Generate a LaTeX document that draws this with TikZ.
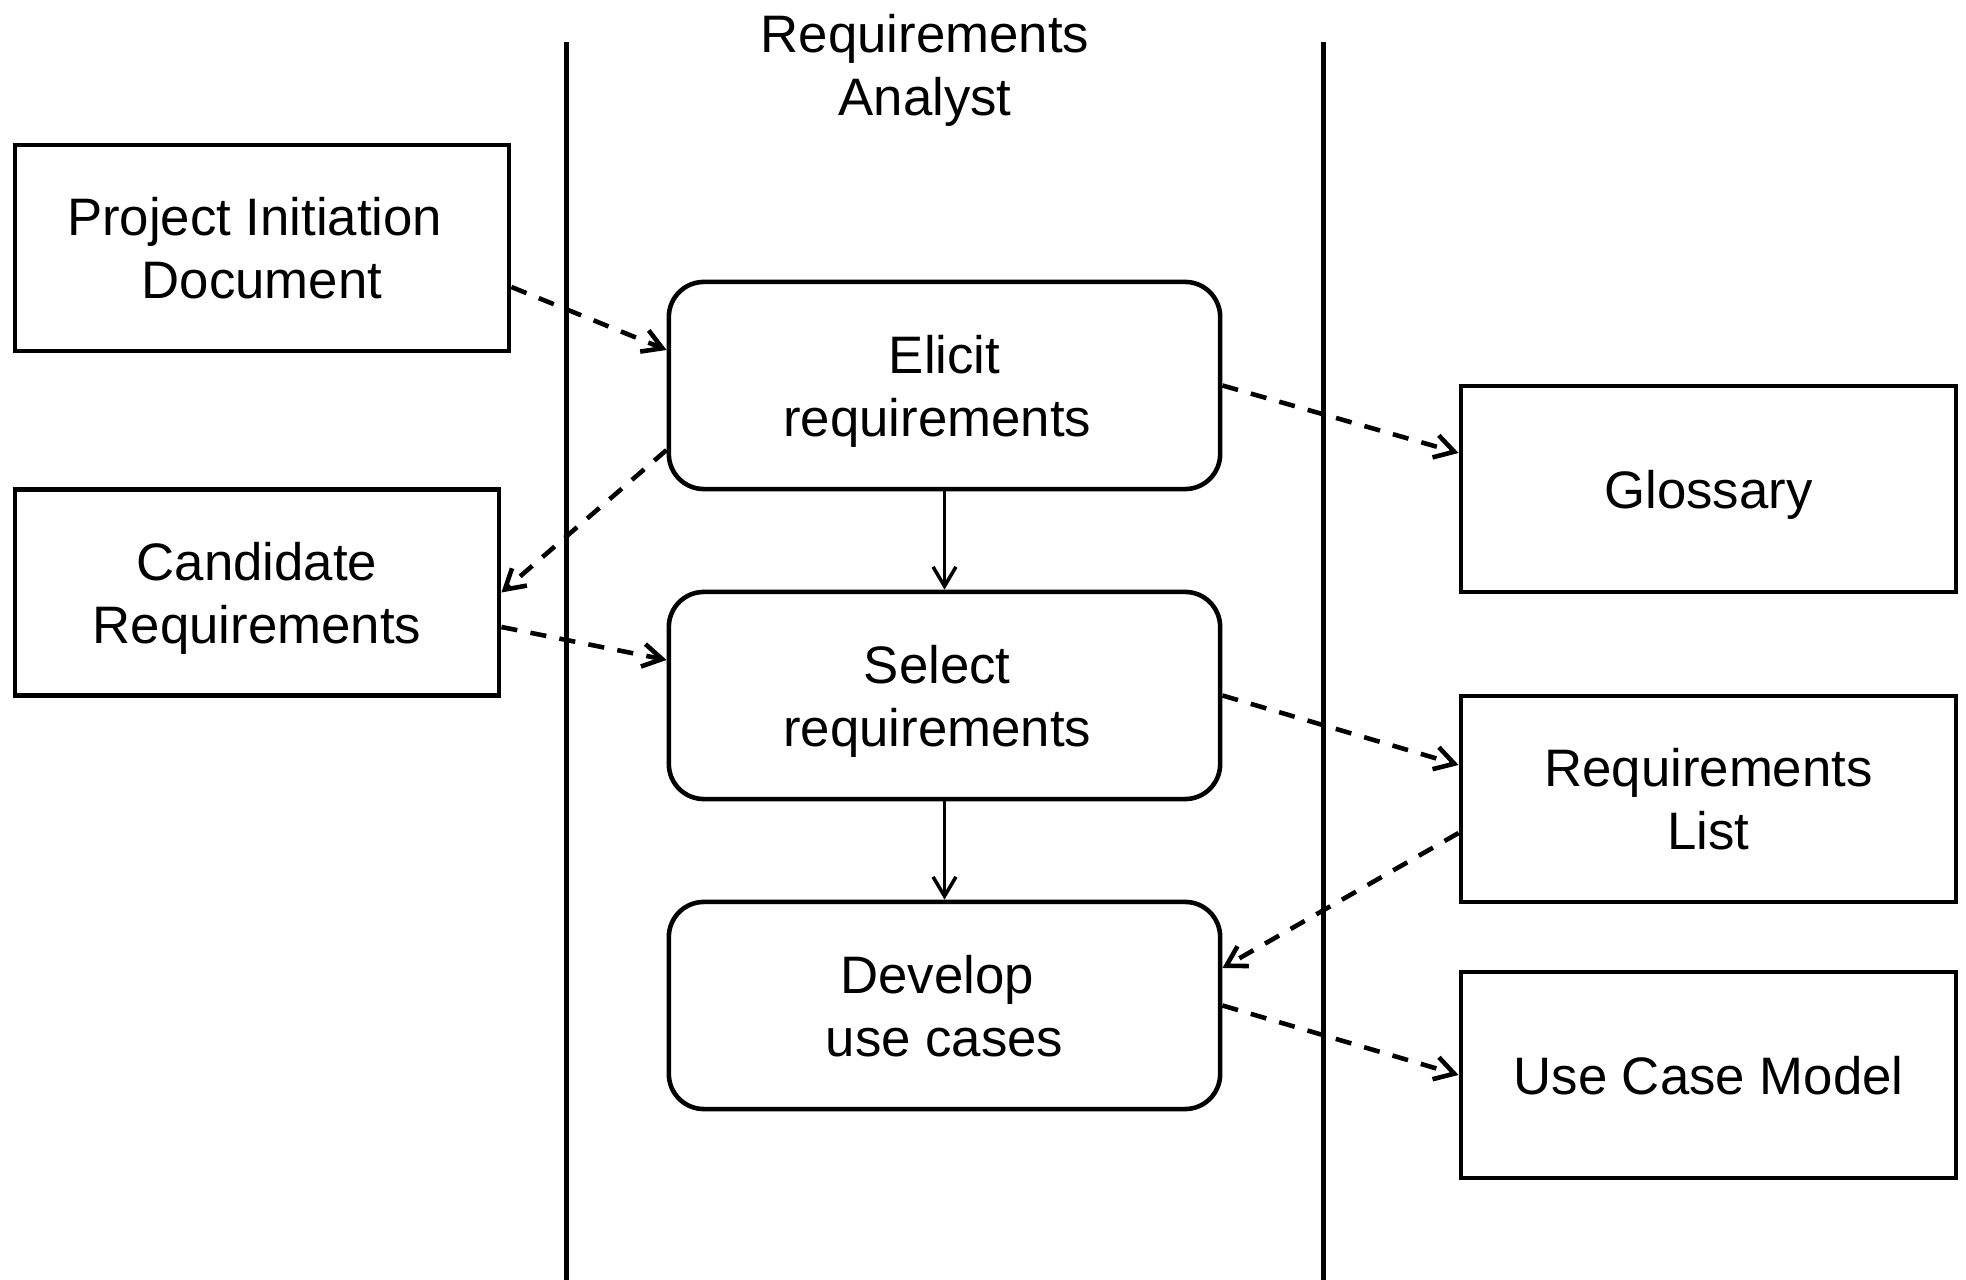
\documentclass[tikz,border=0pt]{standalone}
\usepackage{fontspec}
\setmainfont{Liberation Sans}
\usetikzlibrary{arrows.meta}
\newcommand\trailsp{\kern0.278em}

\begin{document}
\begin{tikzpicture}[x=0.01cm,y=-0.01cm,
  >={Straight Barb[length=5.5pt,width=6.5pt]},
  every node/.style={font=\fontsize{15}{17.9}\selectfont,align=center,inner sep=0pt,
    text height=32.8pt,text depth=4pt},
  oneline/.style={text height=14.9pt},
  doc/.style={draw,line width=1.3pt,minimum width=4.94cm,minimum height=2.06cm},
  act/.style={draw,line width=1.3pt,rounded corners=0.35cm,minimum width=5.51cm,minimum height=2.07cm},
  flow/.style={->,line width=1pt},
  dataflow/.style={->,line width=1.3pt,dash pattern=on 4.6pt off 3.8pt},
  lane/.style={line width=1.15pt}]
\useasboundingbox (0,0) rectangle (1966,1280);
% swimlane
\draw[lane] (566.5,42) -- (566.5,1280);
\draw[lane] (1323.5,42) -- (1323.5,1280);
\node (analyst) at (925,65) {Requirements\\Analyst};
% activities
\node[act] (elicit) at (944.5,385.5) {Elicit\\requirements\trailsp};
\node[act] (select) at (944.5,695.5) {Select\trailsp\\requirements\trailsp};
\node[act] (develop) at (944.5,1005.5) {Develop\trailsp\\use cases};
% documents
\node[doc] (pid) at (262,248) {Project Initiation\trailsp\\Document};
\node[doc,minimum width=4.84cm] (cand) at (257,592.5) {Candidate\\Requirements};
\node[doc,oneline,minimum width=4.95cm] (gloss) at (1708.5,489) {Glossary};
\node[doc,minimum width=4.95cm] (reqlist) at (1708.5,799) {Requirements\\List};
\node[doc,oneline,minimum width=4.95cm] (ucm) at (1708.5,1075) {Use Case Model};
% control flow
\draw[flow] (elicit.south) -- (select.north);
\draw[flow] (select.south) -- (develop.north);
% object flow
\draw[dataflow] ([yshift=-0.39cm]pid.east) -- ([yshift=0.355cm]elicit.west);
\draw[dataflow] ([yshift=-0.645cm]elicit.west) -- (cand.east);
\draw[dataflow] ([yshift=-0.345cm]cand.east) -- ([yshift=0.355cm]select.west);
\draw[dataflow] (elicit.east) -- ([yshift=0.36cm]gloss.west);
\draw[dataflow] (select.east) -- ([yshift=0.34cm]reqlist.west);
\draw[dataflow] ([yshift=-0.34cm]reqlist.west) -- ([yshift=0.375cm]develop.east);
\draw[dataflow] (develop.east) -- (ucm.west);
\end{tikzpicture}
\end{document}
